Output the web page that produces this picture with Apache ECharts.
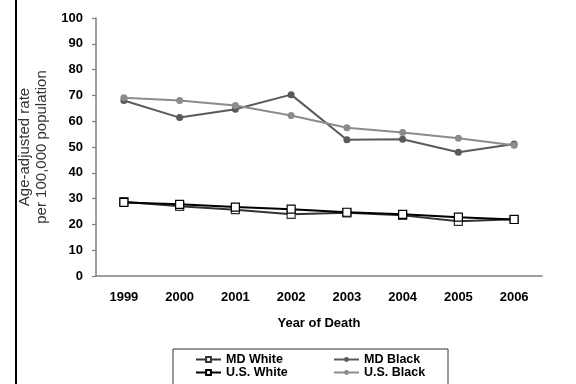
<!DOCTYPE html>
<html>
<head>
<meta charset="utf-8">
<script src="https://cdn.jsdelivr.net/npm/echarts@6/dist/echarts.min.js"></script>
<style>
  html, body { margin: 0; padding: 0; background: #fff; }
</style>
</head>
<body>
<div id="chart" style="width: 576px; height: 384px"></div>
<script>
  var years = ['1999', '2000', '2001', '2002', '2003', '2004', '2005', '2006']
  var mdWhite = [28.8, 27.0, 25.7, 23.9, 24.5, 23.5, 21.2, 22.0]
  var mdBlack = [68.0, 61.4, 64.6, 70.3, 52.8, 53.0, 48.0, 51.2]
  var usWhite = [28.5, 27.8, 26.7, 25.9, 24.7, 23.9, 22.8, 21.9]
  var usBlack = [69.1, 68.0, 66.1, 62.2, 57.5, 55.6, 53.4, 50.7]
  var yTicks = { min: 0, max: 100, interval: 10 }

  var chart = echarts.init(document.getElementById('chart'))

  var font = 'Liberation Sans, Arial, sans-serif'
  var txt = { fontFamily: font, fontWeight: 'bold', fontSize: 13, color: '#000' }
  var legendTxt = { fontFamily: font, fontWeight: 'bold', fontSize: 12.5, color: '#000' }

  // one legend per entry so the 2x2 layout matches
  function legendAt(name, left, top) {
    return {
      orient: 'horizontal',
      left: left,
      top: top,
      padding: 0,
      itemWidth: 25,
      itemHeight: 6,
      textStyle: legendTxt,
      data: [name]
    }
  }

  var option = {
    animation: false,
    textStyle: { fontFamily: font },
    grid: { left: 96, right: 34, top: 18, bottom: 108 },
    xAxis: {
      type: 'category',
      data: years,
      boundaryGap: true,
      name: 'Year of Death',
      nameLocation: 'middle',
      nameGap: 41,
      nameTextStyle: txt,
      axisLine: { lineStyle: { color: '#7f7f7f', width: 1.5 } },
      axisTick: { inside: true, length: 4, lineStyle: { color: '#7f7f7f', width: 1.2 } },
      axisLabel: Object.assign({ margin: 15 }, txt),
      splitLine: { show: false }
    },
    yAxis: {
      type: 'value',
      min: yTicks.min,
      max: yTicks.max,
      interval: yTicks.interval,
      name: 'Age-adjusted rate\nper 100,000 population',
      nameLocation: 'middle',
      nameGap: 39,
      nameRotate: 90,
      nameTextStyle: { fontFamily: font, fontSize: 15, color: '#333', lineHeight: 17 },
      axisLine: { show: true, lineStyle: { color: '#7f7f7f', width: 1.5 } },
      axisTick: { show: true, length: 4, lineStyle: { color: '#7f7f7f', width: 1.2 } },
      axisLabel: Object.assign({ margin: 13 }, txt),
      splitLine: { show: false }
    },
    legend: [
      legendAt('MD White', 195, 353),
      legendAt('U.S. White', 195, 366),
      legendAt('MD Black', 333, 353),
      legendAt('U.S. Black', 333, 366)
    ],
    graphic: [
      { type: 'line', shape: { x1: 16, y1: 0, x2: 16, y2: 384 }, style: { stroke: '#000', lineWidth: 2 } },
      { type: 'rect', shape: { x: 173, y: 349, width: 275, height: 40 }, style: { fill: 'none', stroke: '#333', lineWidth: 1 } }
    ],
    series: [
      {
        name: 'MD White',
        type: 'line',
        data: mdWhite,
        symbol: 'rect',
        symbolSize: 8,
        itemStyle: { color: '#fff', borderColor: '#333', borderWidth: 1.2 },
        lineStyle: { color: '#333', width: 2 },
        z: 3
      },
      {
        name: 'MD Black',
        type: 'line',
        data: mdBlack,
        symbol: 'circle',
        symbolSize: 7,
        itemStyle: { color: '#5a5a5a' },
        lineStyle: { color: '#5a5a5a', width: 2 }
      },
      {
        name: 'U.S. White',
        type: 'line',
        data: usWhite,
        symbol: 'rect',
        symbolSize: 8,
        itemStyle: { color: '#fff', borderColor: '#000', borderWidth: 1.2 },
        lineStyle: { color: '#000', width: 2 },
        z: 4
      },
      {
        name: 'U.S. Black',
        type: 'line',
        data: usBlack,
        symbol: 'circle',
        symbolSize: 7,
        itemStyle: { color: '#8c8c8c' },
        lineStyle: { color: '#8c8c8c', width: 2 }
      }
    ]
  }

  chart.setOption(option)
</script>
</body>
</html>
